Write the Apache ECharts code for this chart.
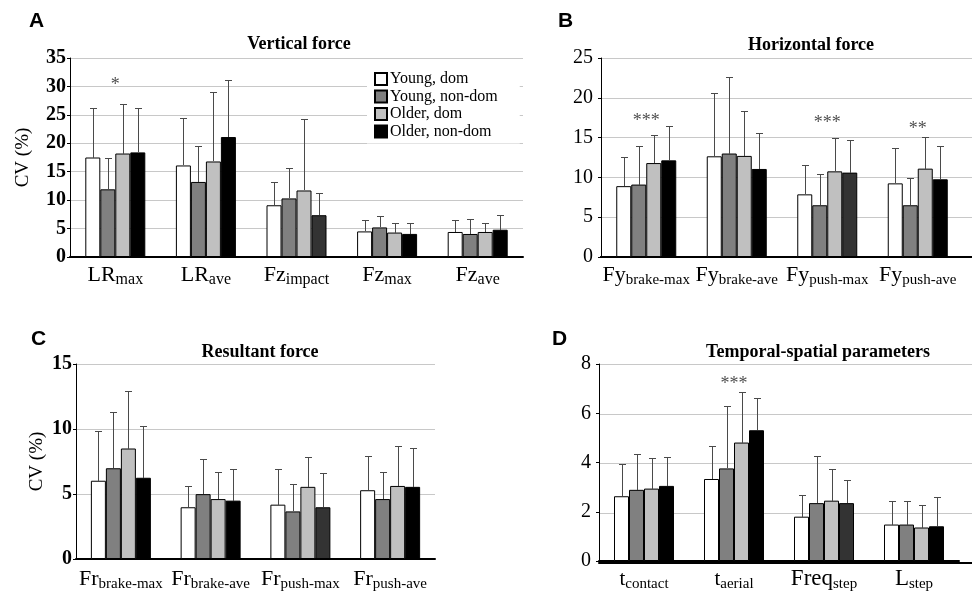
<!DOCTYPE html>
<html>
<head>
<meta charset="utf-8">
<script src="https://cdn.jsdelivr.net/npm/echarts@6/dist/echarts.min.js"></script>
<style>
  html, body { margin: 0; padding: 0; background: #fff; }
  #chart { width: 972px; height: 592px; }
</style>
</head>
<body>
<div id="chart"></div>
<script>
// Groups (one bar series each)
const groupNames = ['Young, dom', 'Young, non-dom', 'Older, dom', 'Older, non-dom'];

// A: vertical force — CV (%) means and SDs per group
const catMainA = ['LR', 'LR', 'Fz', 'Fz', 'Fz'];
const catSubA = ['max', 'ave', 'impact', 'max', 'ave'];
const meanA = [
  [17.5, 16.1, 9.1, 4.5, 4.4],
  [11.9, 13.2, 10.3, 5.2, 4.05],
  [18.2, 16.8, 11.7, 4.3, 4.4],
  [18.4, 21.1, 7.35, 4.06, 4.8]
];
const sdA = [
  [8.7, 8.4, 4.1, 2.0, 2.05],
  [5.45, 6.3, 5.4, 2.0, 2.7],
  [8.7, 12.3, 12.6, 1.75, 1.6],
  [7.8, 10.0, 3.95, 2.0, 2.5]
];
const starsA = [[0, 30.2, '*']];

// B: horizontal force
const catMainB = ['Fy', 'Fy', 'Fy', 'Fy'];
const catSubB = ['brake-max', 'brake-ave', 'push-max', 'push-ave'];
const meanB = [
  [8.9, 12.65, 7.87, 9.25],
  [9.1, 13.0, 6.5, 6.5],
  [11.8, 12.7, 10.76, 11.1],
  [12.14, 11.06, 10.6, 9.76]
];
const sdB = [
  [3.66, 7.95, 3.69, 4.45],
  [4.8, 9.6, 3.9, 3.47],
  [3.5, 5.6, 4.19, 4.0],
  [4.26, 4.54, 4.14, 4.14]
];
const starsB = [[0, 17.1, '***'], [2, 16.8, '***'], [3, 16.1, '**']];

// C: resultant force
const catMainC = ['Fr', 'Fr', 'Fr', 'Fr'];
const catSubC = ['brake-max', 'brake-ave', 'push-max', 'push-ave'];
const meanC = [
  [6.02, 3.98, 4.18, 5.29],
  [6.98, 4.99, 3.66, 4.61],
  [8.5, 4.61, 5.55, 5.62],
  [6.25, 4.49, 3.98, 5.55]
];
const sdC = [
  [3.86, 1.62, 2.75, 2.65],
  [4.36, 2.67, 2.14, 2.09],
  [4.4, 2.09, 2.31, 3.05],
  [3.95, 2.44, 2.62, 3.02]
];
const starsC = [];

// D: temporal-spatial parameters
const catMainD = ['t', 't', 'Freq', 'L'];
const catSubD = ['contact', 'aerial', 'step', 'step'];
const meanD = [
  [2.63, 3.33, 1.8, 1.48],
  [2.89, 3.76, 2.35, 1.48],
  [2.94, 4.81, 2.45, 1.36],
  [3.05, 5.31, 2.35, 1.41]
];
const sdD = [
  [1.32, 1.35, 0.9, 0.94],
  [1.46, 2.52, 1.9, 0.94],
  [1.25, 2.07, 1.3, 0.9],
  [1.18, 1.29, 0.92, 1.19]
];
const starsD = [[1, 7.16, '***']];

// ---- styling ----
const SERIF = 'Liberation Serif';
const SANS = 'Liberation Sans';
const BAR_W = 15;
const fills = ['#ffffff', '#808080', '#c0c0c0', '#000000'];
const DEEP = '#333333';   // last bar of the third group is a deeper charcoal
const DEEP_CAT = 2;

const panels = [
  { main: catMainA, sub: catSubA, mean: meanA, sd: sdA, stars: starsA, max: 35, step: 5,
    grid: { left: 70, top: 58, width: 453, height: 199 }, boldTicks: true, name: 'CV (%)', nameGap: 37,
    mainSize: 22, subSize: 16, labelMargin: 5 },
  { main: catMainB, sub: catSubB, mean: meanB, sd: sdB, stars: starsB, max: 25, step: 5,
    grid: { left: 601, top: 58, width: 362, height: 199 }, boldTicks: false, name: '', nameGap: 0,
    mainSize: 22, subSize: 15, labelMargin: 5, extend: 972 },
  { main: catMainC, sub: catSubC, mean: meanC, sd: sdC, stars: starsC, max: 15, step: 5,
    grid: { left: 76, top: 364, width: 359, height: 199 }, boldTicks: true, name: 'CV (%)', nameGap: 29,
    mainSize: 22, subSize: 15, labelMargin: 7 },
  { main: catMainD, sub: catSubD, mean: meanD, sd: sdD, stars: starsD, max: 8, step: 2,
    grid: { left: 599, top: 364, width: 360, height: 199 }, boldTicks: false, name: '', nameGap: 0,
    mainSize: 21, subSize: 15, labelMargin: 5, extend: 972 }
];

const grids = [], xAxes = [], yAxes = [], series = [];

panels.forEach((p, pi) => {
  grids.push(p.grid);
  const cats = p.main.map((m, i) => m + '|' + p.sub[i]);
  xAxes.push({
    type: 'category', gridIndex: pi, data: cats,
    axisLine: { lineStyle: { color: '#000', width: 2 } },
    axisTick: { show: false },
    axisLabel: {
      interval: 0, margin: p.labelMargin, color: '#000',
      formatter: v => {
        const [m, s] = v.split('|');
        const big = m === 'Freq' || m === 'L' ? 'b' : 'm';
        return '{' + big + '|' + m + '}{s|' + s + '}';
      },
      rich: {
        m: { fontFamily: SERIF, fontSize: p.mainSize, lineHeight: 26, color: '#000' },
        b: { fontFamily: SERIF, fontSize: 23, lineHeight: 26, color: '#000' },
        s: { fontFamily: SERIF, fontSize: p.subSize, lineHeight: 26, verticalAlign: 'bottom', color: '#000' }
      }
    }
  });
  yAxes.push({
    type: 'value', gridIndex: pi, min: 0, max: p.max, interval: p.step,
    name: p.name, nameLocation: 'middle', nameGap: p.nameGap,
    nameTextStyle: { fontFamily: SERIF, fontSize: 19, color: '#000' },
    axisLine: { show: true, lineStyle: { color: '#000', width: 1 } },
    axisTick: { show: true, length: 3, lineStyle: { color: '#000' } },
    axisLabel: { fontFamily: SERIF, fontSize: 20, color: '#000', margin: p.boldTicks ? 4 : 8,
                 fontWeight: p.boldTicks ? 'bold' : 'normal' },
    splitLine: { show: !p.extend, lineStyle: { color: '#c8c8c8', width: 1 } }
  });

  // one bar series per group
  p.mean.forEach((vals, si) => {
    series.push({
      type: 'bar', name: groupNames[si], xAxisIndex: pi, yAxisIndex: pi,
      barWidth: BAR_W, barGap: '0%',
      itemStyle: { color: fills[si], borderColor: '#000', borderWidth: 1 },
      data: vals.map((v, ci) => (si === 3 && ci === DEEP_CAT)
        ? { value: v, itemStyle: { color: DEEP } } : v),
      z: 3
    });
  });

  // upper error whiskers: [category, group, mean, mean + SD]
  const errData = [];
  p.mean.forEach((vals, si) => vals.forEach((v, ci) => {
    errData.push([ci, si, v, +(v + p.sd[si][ci]).toFixed(3)]);
  }));
  series.push({
    type: 'custom', xAxisIndex: pi, yAxisIndex: pi, z: 4, silent: true,
    encode: { x: 0, y: [2, 3] },
    data: errData,
    renderItem: (params, api) => {
      const ci = api.value(0), si = api.value(1);
      const base = api.coord([ci, api.value(2)]);
      const top = api.coord([ci, api.value(3)]);
      const x = Math.round(base[0] + (si - 1.5) * BAR_W) + 0.5;
      const y0 = Math.round(base[1]);
      const y1 = Math.round(top[1]) + 0.5;
      const st = { stroke: '#4a4a4a', lineWidth: 1 };
      return {
        type: 'group',
        children: [
          { type: 'line', shape: { x1: x, y1: y0, x2: x, y2: y1 }, style: st },
          { type: 'line', shape: { x1: x - 3.5, y1: y1, x2: x + 3.5, y2: y1 }, style: st }
        ]
      };
    }
  });

  // significance markers
  if (p.stars.length) {
    series.push({
      type: 'scatter', xAxisIndex: pi, yAxisIndex: pi, symbolSize: 0, silent: true, z: 5,
      data: p.stars.map(s => ({ value: [s[0], s[1]], label: { formatter: s[2] } })),
      label: { show: true, position: 'inside', fontFamily: SERIF, fontSize: 18, color: '#222' }
    });
  }
});

// wide gridline layers for B and D (gridlines run to the page edge)
panels.forEach((p, pi) => {
  if (!p.extend) return;
  const gi = grids.length;
  grids.push({ left: p.grid.left, top: p.grid.top, width: p.extend - p.grid.left, height: p.grid.height });
  xAxes.push({ type: 'value', gridIndex: gi, min: 0, max: 1, show: true,
    axisLine: { show: true, onZero: false, lineStyle: { color: '#000', width: 2 } },
    axisTick: { show: false }, axisLabel: { show: false }, splitLine: { show: false } });
  yAxes.push({ type: 'value', gridIndex: gi, min: 0, max: p.max, interval: p.step,
    axisLine: { show: false }, axisTick: { show: false }, axisLabel: { show: false },
    splitLine: { show: true, lineStyle: { color: '#c8c8c8', width: 1 } } });
});

const titleStyle = { fontFamily: SERIF, fontSize: 18, fontWeight: 'bold', color: '#000' };
const letterStyle = { fontFamily: SANS, fontSize: 21, fontWeight: 'bold', color: '#000' };

const option = {
  backgroundColor: '#fff',
  animation: false,
  title: [
    { text: 'A', left: 29, top: 11, textStyle: letterStyle, padding: 0 },
    { text: 'B', left: 558, top: 11, textStyle: letterStyle, padding: 0 },
    { text: 'C', left: 31, top: 329, textStyle: letterStyle, padding: 0 },
    { text: 'D', left: 552, top: 329, textStyle: letterStyle, padding: 0 },
    { text: 'Vertical force', left: 299, textAlign: 'center', top: 35, textStyle: titleStyle, padding: 0 },
    { text: 'Horizontal force', left: 811, textAlign: 'center', top: 36, textStyle: titleStyle, padding: 0 },
    { text: 'Resultant force', left: 260, textAlign: 'center', top: 343, textStyle: titleStyle, padding: 0 },
    { text: 'Temporal-spatial parameters', left: 818, textAlign: 'center', top: 343, textStyle: titleStyle, padding: 0 }
  ],
  legend: {
    data: groupNames, orient: 'vertical', left: 367, top: 64,
    backgroundColor: '#fff', padding: [7, 22, 4, 7],
    icon: 'rect', itemWidth: 12, itemHeight: 12, itemGap: 1.5,
    textStyle: { fontFamily: SERIF, fontSize: 16, color: '#000', padding: [0, 0, 0, -2] },
    selectedMode: false
  },
  grid: grids,
  xAxis: xAxes,
  yAxis: yAxes,
  series: series
};

const chart = echarts.init(document.getElementById('chart'), null, { renderer: 'canvas' });
chart.setOption(option);
</script>
</body>
</html>
